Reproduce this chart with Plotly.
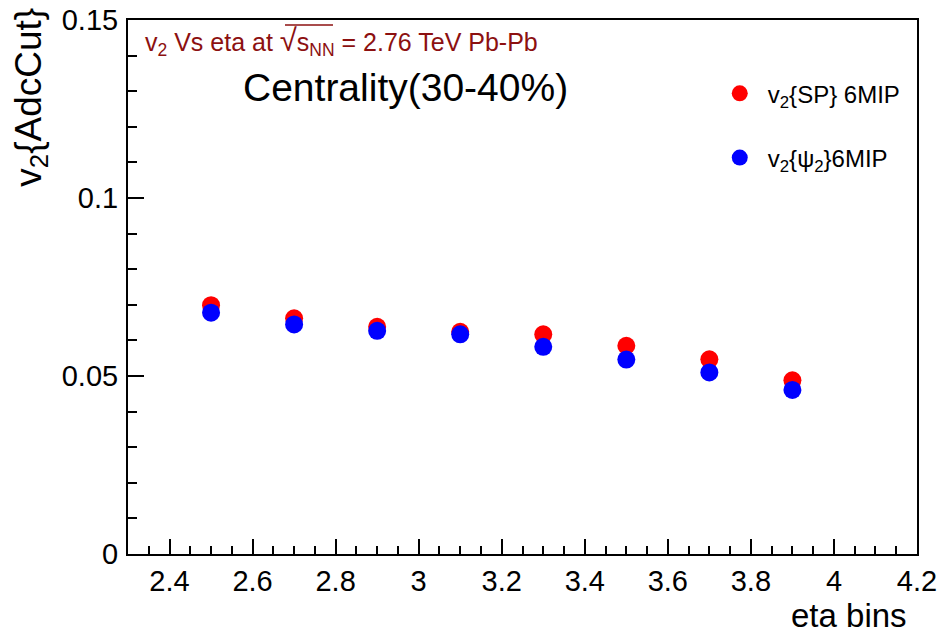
import plotly.graph_objects as go

# ---- data ----
eta = [2.5, 2.7, 2.9, 3.1, 3.3, 3.5, 3.7, 3.9]
v2_sp = [0.0699, 0.0662, 0.0638, 0.0624, 0.0617, 0.0585, 0.0547, 0.0488]
v2_psi = [0.0678, 0.0645, 0.0627, 0.0617, 0.0582, 0.0546, 0.0510, 0.0461]
series_names = ["\u2004v<sub>2</sub>{SP} 6MIP", "\u2004v<sub>2</sub>{ψ<sub>2</sub>}6MIP"]
x_ticks = [2.4, 2.6, 2.8, 3.0, 3.2, 3.4, 3.6, 3.8, 4.0, 4.2]
x_ticklabels = ["2.4", "2.6", "2.8", "3", "3.2", "3.4", "3.6", "3.8", "4", "4.2"]
y_ticks = [0, 0.05, 0.1, 0.15]
y_ticklabels = ["0", "0.05", "0.1", "0.15"]
x_range = [2.3, 4.2]
y_range = [0, 0.15]
header_text = ("v<sub>2</sub> Vs eta at <span style='font-size:31px'>√</span>"
               "s<sub>NN</sub> = 2.76 TeV Pb-Pb")
centrality_text = "Centrality(30-40%)"
x_title = "eta bins"
y_title = "v<sub>2</sub>{AdcCut}"

FONT = "Liberation Sans, Arial, Helvetica, sans-serif"
HEADER_COLOR = "#8c1010"

fig = go.Figure()
fig.add_trace(go.Scatter(x=eta, y=v2_sp, mode="markers", name=series_names[0],
                         legendgroup="a",
                         marker=dict(color="#ff0000", size=18, line=dict(width=0))))
fig.add_trace(go.Scatter(x=eta, y=v2_psi, mode="markers", name=series_names[1],
                         legendgroup="b",
                         marker=dict(color="#0000ff", size=18, line=dict(width=0))))

axis_common = dict(showgrid=False, zeroline=False, showline=True, linecolor="black",
                   linewidth=2, mirror=True, ticks="inside", tickcolor="black",
                   tickwidth=1.5, automargin=False,
                   tickfont=dict(family=FONT, size=29, color="black"))

fig.update_xaxes(range=x_range, tickvals=x_ticks, ticktext=x_ticklabels, ticklen=15,
                 minor=dict(dtick=0.05, tick0=2.3, ticks="inside", ticklen=8,
                            tickcolor="black", tickwidth=1.5, showgrid=False),
                 ticklabelstandoff=0, **axis_common)
fig.update_yaxes(range=y_range, tickvals=y_ticks, ticktext=y_ticklabels, ticklen=16,
                 minor=dict(dtick=0.01, tick0=0, ticks="inside", ticklen=9,
                            tickcolor="black", tickwidth=1.5, showgrid=False),
                 ticklabelstandoff=2, **axis_common)

fig.add_annotation(text=header_text, xref="paper", yref="paper", x=0.0196, y=0.999,
                   xanchor="left", yanchor="top", showarrow=False,
                   font=dict(family=FONT, size=25, color=HEADER_COLOR))
# overline of the square root in the header
fig.add_shape(type="line", xref="paper", yref="paper", x0=0.199, x1=0.2598,
              y0=0.9906, y1=0.9906, line=dict(color=HEADER_COLOR, width=1.5))
fig.add_annotation(text=centrality_text, xref="paper", yref="paper", x=0.352, y=0.873,
                   xanchor="center", yanchor="middle", showarrow=False,
                   font=dict(family=FONT, size=39, color="black"))
fig.add_annotation(text=x_title, xref="paper", yref="paper", x=0.99, y=-0.115,
                   xanchor="right", yanchor="middle", showarrow=False,
                   font=dict(family=FONT, size=33, color="black"))
fig.add_annotation(text=y_title, xref="paper", yref="paper", x=-0.124, y=1.026,
                   xanchor="center", yanchor="top", textangle=-90, showarrow=False,
                   font=dict(family=FONT, size=37, color="black"))

fig.update_layout(
    width=943, height=635,
    margin=dict(l=128, r=26, t=20, b=81, autoexpand=False),
    paper_bgcolor="white", plot_bgcolor="white",
    showlegend=True,
    legend=dict(x=0.75, y=0.904, xanchor="left", yanchor="top",
                bgcolor="rgba(0,0,0,0)", borderwidth=0,
                font=dict(family=FONT, size=24, color="black"),
                tracegroupgap=30, itemsizing="trace"),
)

fig.write_html("out.html", config={"displayModeBar": False},
               post_script="document.body.style.margin='0px';document.body.style.padding='0px';")
